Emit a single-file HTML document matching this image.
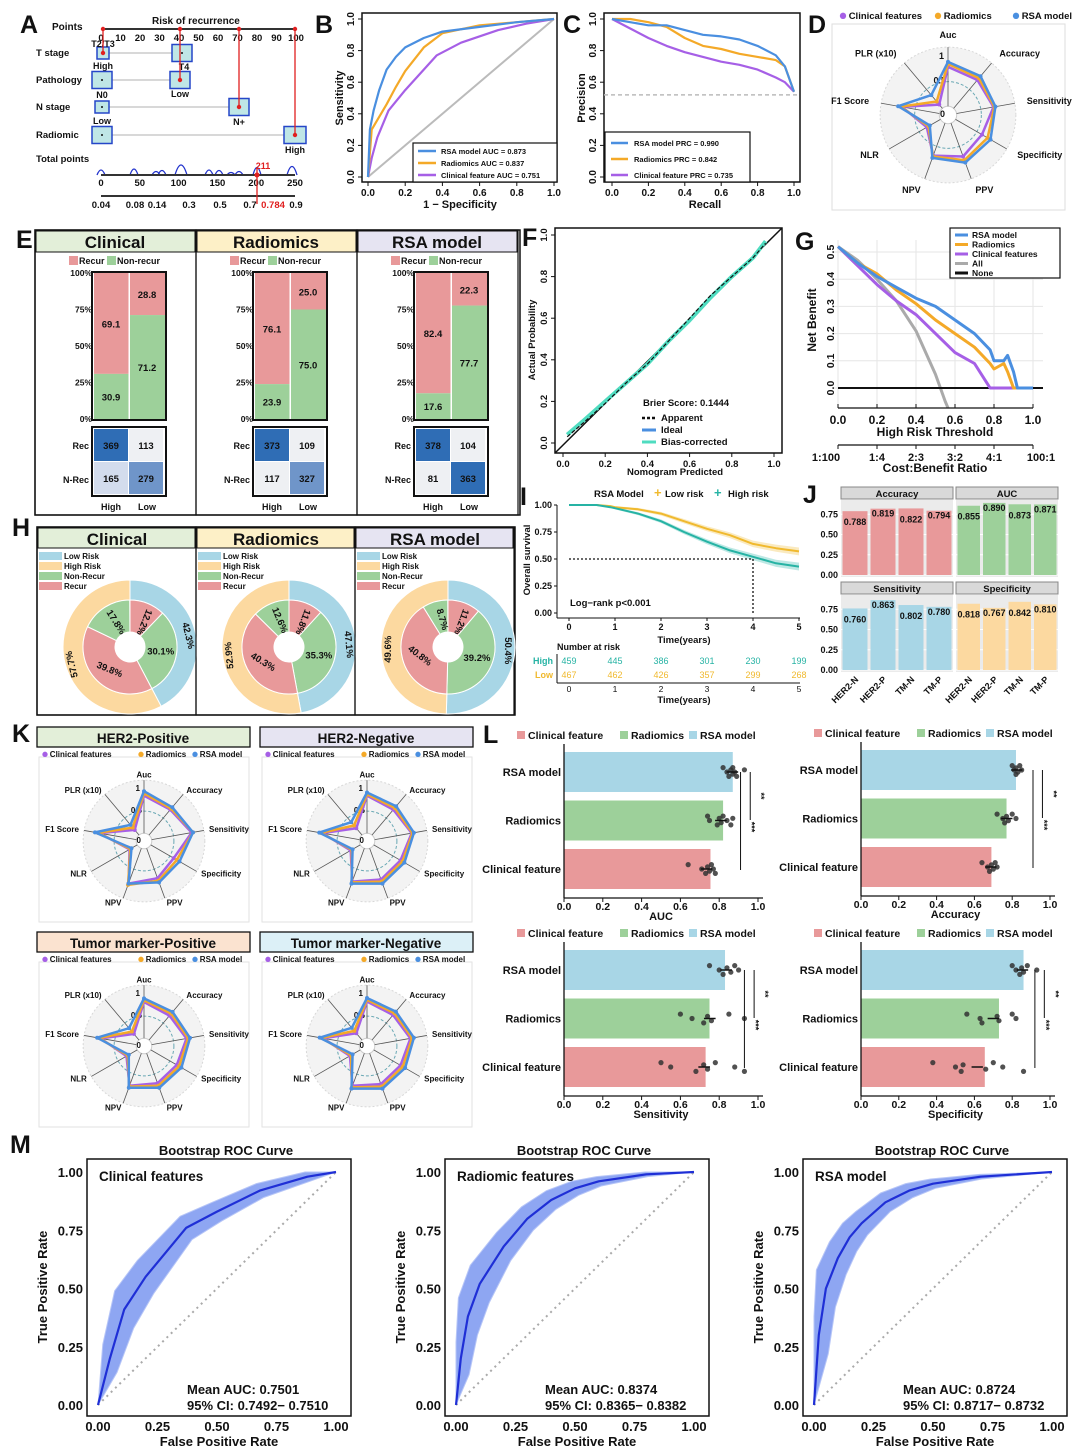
<!DOCTYPE html>
<html><head><meta charset="utf-8">
<style>body{margin:0;background:#fff}svg{display:block;font-family:"Liberation Sans",Arial,sans-serif}</style>
</head><body>
<svg id="fig" width="1080" height="1455" viewBox="0 0 1080 1455"></svg>
<script>
// ===== Panel B: ROC =====
const bRsaX=[0,0.01,0.03,0.06,0.1,0.15,0.2,0.3,0.4,0.6,0.8,1];
const bRsaY=[0,0.3,0.42,0.55,0.68,0.76,0.82,0.88,0.92,0.95,0.98,1];
const bRadX=[0,0.02,0.05,0.1,0.15,0.2,0.3,0.4,0.6,0.8,1];
const bRadY=[0,0.3,0.36,0.46,0.57,0.67,0.82,0.91,0.96,0.98,1];
const bCliX=[0,0.02,0.05,0.11,0.2,0.37,0.5,0.7,0.85,1];
const bCliY=[0,0.12,0.25,0.42,0.55,0.77,0.85,0.93,0.97,1];
const bLegend=['RSA model AUC = 0.873','Radiomics AUC = 0.837','Clinical feature AUC = 0.751'];
// ===== Panel C: PRC =====
const cRecall=[0,0.1,0.2,0.3,0.4,0.5,0.6,0.7,0.8,0.9,0.95,1];
const cRsa=[1,0.98,0.96,0.96,0.93,0.9,0.89,0.87,0.83,0.77,0.7,0.54];
const cRad=[1,1,0.98,0.95,0.88,0.83,0.81,0.78,0.76,0.74,0.7,0.54];
const cCli=[1,0.94,0.88,0.83,0.79,0.76,0.73,0.71,0.68,0.63,0.6,0.54];
const cBaseline=0.52;
const cLegend=['RSA model PRC = 0.990','Radiomics PRC = 0.842','Clinical feature PRC = 0.735'];
// ===== Radar axes =====
const radarLabels=['Auc','Accuracy','Sensitivity','Specificity','PPV','NPV','NLR','F1 Score','PLR (x10)'];
// Panel D
const dCli=[0.8,0.75,0.76,0.62,0.72,0.7,0.32,0.77,0.1];
const dRad=[0.86,0.8,0.78,0.75,0.8,0.72,0.28,0.8,0.18];
const dRsa=[0.9,0.85,0.8,0.82,0.85,0.75,0.25,0.85,0.35];
// ===== Panel E =====
const eGroups=['Clinical','Radiomics','RSA model'];
const eHighRecur=[69.1,76.1,82.4];
const eLowRecur=[28.8,25.0,22.3];
const eMatrix=[[369,113,165,279],[373,109,117,327],[378,104,81,363]];
// ===== Panel F: calibration =====
const fPred=[0.02,0.1,0.2,0.3,0.4,0.5,0.6,0.7,0.8,0.9,0.96];
const fApparent=[0.03,0.1,0.19,0.29,0.38,0.49,0.6,0.71,0.8,0.89,0.96];
const fBias=[0.04,0.11,0.2,0.29,0.38,0.49,0.59,0.7,0.8,0.89,0.97];
// ===== Panel G: DCA =====
const gThr=[0,0.1,0.2,0.3,0.4,0.5,0.6,0.7,0.78,0.8,0.85,0.87,0.9,0.92,1];
const gRsa=[0.52,0.46,0.41,0.37,0.33,0.3,0.25,0.2,0.14,0.1,0.1,0.12,0.06,0,0];
const gRad=[0.52,0.46,0.42,0.36,0.31,0.25,0.2,0.15,0.09,0.07,0.09,0.06,0,0,0];
const gCli=[0.52,0.45,0.38,0.32,0.27,0.2,0.13,0.09,0,0,0,0,0,0,0];
const gAllThr=[0,0.1,0.2,0.3,0.4,0.5,0.55,0.58];
const gAll=[0.52,0.47,0.4,0.32,0.21,0.05,-0.05,-0.1];
const gRatioLabels=['1:100','1:4','2:3','3:2','4:1','100:1'];
const gRatioPos=[0,0.2,0.4,0.6,0.8,1];
// ===== Panel H: donuts =====
const hGroups=['Clinical','Radiomics','RSA model'];
const hLowRisk=[42.3,47.1,50.4];
const hInner=[[12.2,30.1,39.8,17.8],[11.8,35.3,40.3,12.6],[11.2,39.2,40.8,8.7]];
// ===== Panel I: KM =====
const iTime=[0,0.6,0.9,1,1.5,2,2.5,3,3.5,4,4.5,5];
const iLow=[1,1,0.99,0.98,0.96,0.92,0.85,0.78,0.72,0.64,0.6,0.57];
const iHigh=[1,1,0.98,0.97,0.92,0.85,0.75,0.66,0.58,0.52,0.46,0.43];
const iRiskTimes=[0,1,2,3,4,5];
const iRiskHigh=[459,445,386,301,230,199];
const iRiskLow=[467,462,426,357,299,268];
// ===== Panel J =====
const jCats=['HER2-N','HER2-P','TM-N','TM-P'];
const jAcc=[0.788,0.819,0.822,0.794];
const jAuc=[0.855,0.890,0.873,0.871];
const jSens=[0.760,0.863,0.802,0.780];
const jSpec=[0.818,0.767,0.842,0.810];
// ===== Panel K radars =====
const k1Cli=[0.85,0.75,0.92,0.6,0.72,0.85,0.2,0.85,0.15];
const k1Rad=[0.9,0.78,0.95,0.68,0.78,0.88,0.18,0.88,0.22];
const k1Rsa=[0.95,0.82,0.95,0.75,0.82,0.85,0.15,0.95,0.3];
const k2Cli=[0.85,0.75,0.85,0.7,0.75,0.8,0.25,0.85,0.2];
const k2Rad=[0.88,0.8,0.87,0.75,0.8,0.82,0.22,0.88,0.28];
const k2Rsa=[0.92,0.85,0.9,0.8,0.85,0.85,0.2,0.92,0.38];
const k3Cli=[0.82,0.72,0.8,0.68,0.72,0.78,0.28,0.82,0.18];
const k3Rad=[0.86,0.78,0.84,0.74,0.78,0.8,0.25,0.86,0.25];
const k3Rsa=[0.9,0.83,0.88,0.8,0.83,0.83,0.22,0.9,0.35];
const k4Cli=[0.83,0.74,0.82,0.7,0.74,0.78,0.27,0.83,0.2];
const k4Rad=[0.87,0.79,0.86,0.76,0.8,0.82,0.24,0.87,0.27];
const k4Rsa=[0.91,0.84,0.9,0.82,0.85,0.85,0.2,0.91,0.36];
// ===== Panel L =====
const lCats=['RSA model','Radiomics','Clinical feature'];
const lAuc=[0.87,0.82,0.755];
const lAcc=[0.82,0.77,0.69];
const lSens=[0.83,0.75,0.73];
const lSpec=[0.86,0.73,0.655];
const lAucPts=[[0.82,0.84,0.85,0.86,0.87,0.87,0.88,0.89,0.93],[0.74,0.75,0.79,0.8,0.81,0.82,0.84,0.86,0.87],[0.64,0.71,0.73,0.74,0.75,0.76,0.77,0.78]];
const lAccPts=[[0.8,0.81,0.82,0.82,0.83,0.84,0.85],[0.72,0.75,0.76,0.77,0.78,0.8,0.82],[0.64,0.67,0.68,0.69,0.7,0.71,0.72]];
const lSensPts=[[0.75,0.8,0.82,0.84,0.86,0.88,0.9],[0.6,0.66,0.72,0.74,0.76,0.85,0.93],[0.5,0.55,0.68,0.72,0.74,0.78,0.88,0.93]];
const lSpecPts=[[0.8,0.82,0.84,0.85,0.86,0.88,0.93],[0.56,0.63,0.64,0.72,0.73,0.8,0.82],[0.38,0.5,0.53,0.54,0.66,0.7,0.75,0.86]];
// ===== Panel M =====
const mCliX=[0,0.05,0.11,0.2,0.37,0.5,0.68,0.88,1];
const mCliY=[0,0.2,0.41,0.55,0.76,0.83,0.92,0.98,1];
const mCliSpread=[0,0.06,0.08,0.07,0.05,0.04,0.03,0.02,0];
const mRadX=[0,0.02,0.05,0.1,0.15,0.2,0.3,0.4,0.5,0.6,0.8,1];
const mRadY=[0,0.2,0.38,0.52,0.6,0.68,0.8,0.88,0.93,0.96,0.99,1];
const mRadSpread=[0,0.07,0.08,0.08,0.07,0.06,0.05,0.04,0.03,0.02,0.01,0];
const mRsaX=[0,0.02,0.05,0.1,0.15,0.2,0.3,0.4,0.5,0.7,1];
const mRsaY=[0,0.3,0.5,0.63,0.72,0.78,0.87,0.92,0.95,0.98,1];
const mRsaSpread=[0,0.08,0.08,0.07,0.06,0.05,0.04,0.03,0.02,0.01,0];

const NS='http://www.w3.org/2000/svg';const S=document.getElementById('fig');
const C_RSA='#4a8fe0',C_RAD='#f4a928',C_CLI='#a65fe6',PINK='#e8999a',GREEN='#9dd09a',LBLUE='#a8d6e6',LORG='#fcd9a0';
function E(tag,a,name,p){const e=document.createElementNS(NS,tag);for(const k in a)e.setAttribute(k,a[k]);


(p||S).appendChild(e);return e;}
function T(x,y,s,fs,name,o){o=o||{};const a={x:x,y:y,'font-size':fs,fill:o.fill||'#111','font-weight':o.w||'bold','text-anchor':o.a||'start'};if(o.rot!==undefined)a.transform='rotate('+o.rot+' '+x+' '+y+')';if(o.ff)a['font-family']=o.ff;const e=E('text',a,name);e.textContent=s;return e;}
function L(x1,y1,x2,y2,c,w,name,d){return E('line',{x1:x1,y1:y1,x2:x2,y2:y2,stroke:c,'stroke-width':w||1,'stroke-dasharray':d||'none'},name);}
function R(x,y,w,h,f,name,st,sw){return E('rect',{x:x,y:y,width:w,height:h,fill:f,stroke:st||'none','stroke-width':sw||1},name);}
function lin(d0,d1,r0,r1){return v=>r0+(v-d0)/(d1-d0)*(r1-r0);}
function P(xs,ys,sx,sy){return xs.map((v,i)=>(i?'L':'M')+sx(v).toFixed(1)+','+sy(ys[i]).toFixed(1)).join('');}
function line(xs,ys,sx,sy,c,w,name,d){return E('path',{d:P(xs,ys,sx,sy),fill:'none',stroke:c,'stroke-width':w,'stroke-dasharray':d||'none','stroke-linejoin':'round'},name);}
function letter(x,y,s){T(x,y,s,25,'panel-label-'+s.toLowerCase(),{ff:'"Liberation Sans",sans-serif'});}

// ===== Panel A: nomogram =====
letter(20,33,'A');
T(52,30,'Points',10,'points-label');T(152,24,'Risk of recurrence',10,'nomogram-title');
const aPts=lin(0,100,101,296);
L(101,29,296,29,'#333',2,'points-axis');
[0,10,20,30,40,50,60,70,80,90,100].forEach(v=>{T(aPts(v),41,String(v),9.5,'points-tick-label',{a:'middle'});});
const aRows=[['T stage',53],['Pathology',80],['N stage',107],['Radiomic',135]];
aRows.forEach(r=>T(36,r[1]+3,r[0],9.5,'row-label-'+r[0].toLowerCase().replace(' ','-')));
function box(x,y,w,h,n){R(x-w/2,y-h/2,w,h,'#bfe6e6',n,'#2546c8',1.5);E('circle',{cx:x,cy:y,r:1,fill:'#111'},n+'-dot');}
L(103,53,182,53,'#ccc',1.5,'t-stage-line');box(103,53,12,12,'t-stage-high-box');box(182,53,20,17,'t-stage-t4-box');
T(103,47,'T2/T3',9,'t23-label',{a:'middle'});T(103,69,'High',9,'high-label',{a:'middle'});T(184,70,'T4',9,'t4-label',{a:'middle'});
L(103,80,180,80,'#ccc',1.5,'pathology-line');box(102,80,20,17,'pathology-box-1');box(180,80,20,17,'pathology-low-box');T(180,97,'Low',9,'low-label',{a:'middle'});
T(102,98,'N0',9,'n0-label',{a:'middle'});
L(102,107,239,107,'#ccc',1.5,'n-stage-line');box(102,107,14,12,'n0-box');box(239,107,20,17,'nplus-box');T(102,124,'Low',9,'low-label-2',{a:'middle'});T(239,125,'N+',9,'nplus-label',{a:'middle'});
L(102,135,295,135,'#ccc',1.5,'radiomic-line');box(102,135,20,17,'radiomic-low-box');box(295,135,22,17,'radiomic-high-box');T(295,153,'High',9,'high-label-2',{a:'middle'});
T(36,162,'Total points',9.5,'total-points-label');
const aTot=lin(0,250,101,295);
E('path',{d:'M97,175 Q101,165 105,175 M130,175 Q134,163 138,175 M152,175 Q156,168 160,175 M158,175 Q162,166 166,175 M175,175 Q181,155 187,175 M205,175 Q209,165 213,175 M215,175 Q219,166 223,175 M227,175 Q231,170 235,175 M235,175 Q239,168 243,175 M253,175 Q257,160 261,175 M287,175 Q292,158 297,175',fill:'none',stroke:'#2233cc','stroke-width':1.3},'points-distribution');
L(101,175,295,175,'#333',2,'total-points-axis');
[0,50,100,150,200,250].forEach(v=>T(aTot(v),186,String(v),9.5,'total-tick-label',{a:'middle'}));
L(101,196,295,196,'#333',2,'risk-axis');
[['0.04',101],['0.08',135],['0.14',157],['0.3',189],['0.5',220],['0.7',250],['0.9',296]].forEach(r=>T(r[1],208,r[0],9.5,'risk-tick-label',{a:'middle'}));
T(273,208,'0.784',9.5,'risk-value-label',{a:'middle',fill:'#e02020'});
T(263,169,'211',9,'total-value-label',{a:'middle',fill:'#e02020'});
[[103,53],[180,80],[239,107],[295,135]].forEach(p=>{L(p[0],29,p[0],p[1],'#e02020',1.3,'points-drop-line');E('circle',{cx:p[0],cy:29,r:2.2,fill:'#e02020'},'points-dot');E('circle',{cx:p[0],cy:p[1],r:2.2,fill:'#e02020'},'row-dot');});
L(257,168,257,204,'#e02020',1.3,'total-drop-line');E('circle',{cx:257,cy:175,r:2.5,fill:'#e02020'},'total-dot');

// ===== generic axes =====
function frame(x0,y0,x1,y1,name){R(x0,y0,x1-x0,y1-y0,'none',name+'-frame','#111',1.5);}
function xTicks(vals,sx,y,name,fmt,fs){vals.forEach(v=>{L(sx(v),y,sx(v),y+4,'#111',1,name+'-xtick');T(sx(v),y+14,fmt(v),fs||10,name+'-xtick-label',{a:'middle'});});}
function yTicksRot(vals,sy,x,name,fmt,fs){vals.forEach(v=>{L(x-4,sy(v),x,sy(v),'#111',1,name+'-ytick');T(x-8,sy(v),fmt(v),fs||10,name+'-ytick-label',{a:'middle',rot:-90});});}
const f1=v=>v.toFixed(1),f2=v=>v.toFixed(2);

// ===== Panel B =====
letter(315,33,'B');
const bx=lin(0,1,368,554),by=lin(0,1,177,19);
frame(362,13,557,182,'roc');
L(bx(0),by(0),bx(1),by(1),'#bbb',2,'roc-diagonal');
line(bCliX,bCliY,bx,by,C_CLI,2.2,'roc-clinical-curve');
line(bRadX,bRadY,bx,by,C_RAD,2.2,'roc-radiomics-curve');
line(bRsaX,bRsaY,bx,by,C_RSA,2.2,'roc-rsa-curve');
xTicks([0,0.2,0.4,0.6,0.8,1],bx,182,'roc',f1);yTicksRot([0,0.2,0.4,0.6,0.8,1],by,362,'roc',f1);
T(460,208,'1 − Specificity',11,'roc-x-title',{a:'middle'});T(343,98,'Sensitivity',11,'roc-y-title',{a:'middle',rot:-90});
R(413,143,144,39,'#fff','roc-legend','#111',1.2);
[C_RSA,C_RAD,C_CLI].forEach((c,i)=>{L(418,151+i*12,436,151+i*12,c,2.5,'roc-legend-swatch');T(441,154+i*12,bLegend[i],7.5,'roc-legend-text');});

// ===== Panel C =====
letter(563,33,'C');
const cx=lin(0,1,612,794),cy=lin(0,1,177,19);
frame(604,13,800,182,'prc');
L(604,cy(cBaseline),800,cy(cBaseline),'#bbb',1.5,'prc-baseline','4,3');
line(cRecall,cCli,cx,cy,C_CLI,2.2,'prc-clinical-curve');
line(cRecall,cRad,cx,cy,C_RAD,2.2,'prc-radiomics-curve');
line(cRecall,cRsa,cx,cy,C_RSA,2.2,'prc-rsa-curve');
xTicks([0,0.2,0.4,0.6,0.8,1],cx,182,'prc',f1);yTicksRot([0,0.2,0.4,0.6,0.8,1],cy,604,'prc',f1);
T(705,208,'Recall',11,'prc-x-title',{a:'middle'});T(585,98,'Precision',11,'prc-y-title',{a:'middle',rot:-90});
R(605,132,145,50,'#fff','prc-legend','#111',1.2);
[C_RSA,C_RAD,C_CLI].forEach((c,i)=>{L(611,143+i*16,628,143+i*16,c,2.5,'prc-legend-swatch');T(634,146+i*16,cLegend[i],7.5,'prc-legend-text');});

// ===== Radar function =====
function radar(cx0,cy0,r,lr,vals,name,fs){
 E('circle',{cx:cx0,cy:cy0,r:r*1.17,fill:'#f3f3f3',stroke:'#d8d8d8','stroke-dasharray':'2,2'},name+'-background');
 const m=v=>r*(0.15+0.85*v);
 E('circle',{cx:cx0,cy:cy0,r:m(0.5),fill:'none',stroke:'#6aa8b4','stroke-dasharray':'3,2'},name+'-ring-half');
 E('circle',{cx:cx0,cy:cy0,r:m(0),fill:'#fff',stroke:'#ccc'},name+'-ring-zero');
 const n=radarLabels.length;
 const pt=(i,v)=>{const a=i/n*2*Math.PI;return [cx0+m(v)*Math.sin(a),cy0-m(v)*Math.cos(a)];};
 for(let i=0;i<n;i++){const a=i/n*2*Math.PI;const p0=pt(i,0),p1=[cx0+r*1.17*Math.sin(a),cy0-r*1.17*Math.cos(a)];
  L(p0[0],p0[1],p1[0],p1[1],'#555',0.8,name+'-axis-line');
  const s=Math.sin(a),lx=cx0+lr*s,ly=cy0-lr*Math.cos(a)+fs/3;
  T(lx,ly,radarLabels[i],fs,name+'-axis-label',{a:Math.abs(s)<0.2?'middle':(s>0?'start':'end')});}
 T(cx0-4,cy0-m(1)+2,'1',fs,name+'-tick-1',{a:'end'});T(cx0-2,cy0-m(0.5)+2,'0.5',fs,name+'-tick-half',{a:'end'});T(cx0-3,cy0+2,'0',fs,name+'-tick-0',{a:'end'});
 [[vals[0],C_CLI,'clinical'],[vals[1],C_RAD,'radiomics'],[vals[2],C_RSA,'rsa']].forEach(sr=>{
  const pts=sr[0].map((v,i)=>pt(i,v));
  E('polygon',{points:pts.map(p=>p[0].toFixed(1)+','+p[1].toFixed(1)).join(' '),fill:'none',stroke:sr[1],'stroke-width':2.5,'stroke-linejoin':'round'},name+'-'+sr[2]+'-polygon');
  pts.forEach(p=>E('circle',{cx:p[0],cy:p[1],r:2,fill:sr[1]},name+'-'+sr[2]+'-point'));});
}
function radarLegend(x,y,fs,name,gap){[[C_CLI,'Clinical features'],[C_RAD,'Radiomics'],[C_RSA,'RSA model']].forEach((l,i)=>{E('circle',{cx:x+gap[i],cy:y-fs/3,r:fs/3,fill:l[0]},name+'-legend-dot');T(x+gap[i]+fs*0.6,y,l[1],fs,name+'-legend-text');});}

// ===== Panel D =====
letter(808,33,'D');
R(832,24,233,186,'none','radar-d-box','#ddd');
radarLegend(843,19,9.5,'radar-d',[0,95,173]);
radar(948,115,58,80,[dCli,dRad,dRsa],'radar-d',9);

// ===== Panel E =====
letter(16,248,'E');
R(35,230,485,285,'none','panel-e-box','#111',1.5);
const eHead=['#e3efd9','#fdf0c7','#e6e4f2'];
eGroups.forEach((g,k)=>{
 const ox=35+k*161;const nm='stack-'+g.toLowerCase().replace(' ','-');
 R(ox,230,161,285,'none',nm+'-box','#111',1.2);
 R(ox+1,231,159,21,eHead[k],nm+'-header','#111',1);
 T(ox+80,248,g,17,nm+'-title',{a:'middle'});
 R(ox+34,256,9,9,PINK,nm+'-legend-recur');T(ox+44,264,'Recur',9,nm+'-legend-recur-text');
 R(ox+72,256,9,9,GREEN,nm+'-legend-nonrecur');T(ox+82,264,'Non-recur',9,nm+'-legend-nonrecur-text');
 const sy=lin(0,100,419,273);
 [100,75,50,25,0].forEach(v=>T(ox+57,sy(v)+3,v+'%',8.5,nm+'-ytick-label',{a:'end'}));
 const bars=[eHighRecur[k],eLowRecur[k]];
 bars.forEach((pv,j)=>{const x=ox+59+j*36;
  R(x,sy(100),35,sy(100-pv)-sy(100),PINK,nm+'-bar-recur-'+j);
  R(x,sy(100-pv),35,sy(0)-sy(100-pv),GREEN,nm+'-bar-nonrecur-'+j);
  T(x+17,(sy(100)+sy(100-pv))/2+4,pv.toFixed(1),9.5,nm+'-recur-value',{a:'middle'});
  T(x+17,(sy(100-pv)+sy(0))/2+4,(100-pv).toFixed(1),9.5,nm+'-nonrecur-value',{a:'middle'});});
 L(ox+94,sy(100),ox+94,sy(0),'#fff',1,nm+'-bar-gap');
 R(ox+57,272,74,148,'none',nm+'-bar-frame','#111',2);
 const mv=eMatrix[k];const mx=Math.max(...mv);
 R(ox+57,427,74,69,'none',nm+'-matrix-frame','#111',2);
 mv.forEach((v,i)=>{const t=v/mx;const col=t>0.9?'#2f6db5':(t>0.6?'#6f95c9':(t>0.35?'#d3dced':'#eef0f3'));
  const x=ox+59+(i%2)*35,y=429+Math.floor(i/2)*33;R(x,y,34,32,col,nm+'-matrix-cell');T(x+17,y+20,String(v),9.5,nm+'-matrix-value',{a:'middle',fill:'#111'});});
 T(ox+54,449,'Rec',9,nm+'-row-rec',{a:'end'});T(ox+54,483,'N-Rec',9,nm+'-row-nrec',{a:'end'});
 T(ox+76,510,'High',9,nm+'-col-high',{a:'middle'});T(ox+112,510,'Low',9,nm+'-col-low',{a:'middle'});
});

// ===== Panel F =====
letter(522,246,'F');
const fx=lin(0,1,563,774),fy=lin(0,1,443,235);
frame(555,228,782,453,'calibration');
L(555,453,782,228,'#111',1.5,'calibration-diagonal');
line(fPred,fBias,fx,fy,'#4fdcc0',4,'calibration-bias-corrected');
line(fPred,fApparent,fx,fy,'#111',1.2,'calibration-apparent','4,2');
xTicks([0,0.2,0.4,0.6,0.8,1],fx,453,'calibration',f1,9.5);yTicksRot([0,0.2,0.4,0.6,0.8,1],fy,555,'calibration',f1,9.5);
T(535,340,'Actual Probability',9.5,'calibration-y-title',{a:'middle',rot:-90});T(675,475,'Nomogram Predicted',9.5,'calibration-x-title',{a:'middle'});
T(643,406,'Brier Score: 0.1444',9.5,'brier-score');
L(642,418,656,418,'#111',2.5,'legend-apparent','3,2');T(661,421,'Apparent',9.5,'legend-apparent-text');
L(642,430,656,430,C_RSA,3,'legend-ideal');T(661,433,'Ideal',9.5,'legend-ideal-text');
L(642,442,656,442,'#4fdcc0',3,'legend-bias');T(661,445,'Bias-corrected',9.5,'legend-bias-text');

// ===== Panel G =====
letter(795,250,'G');
const gx=lin(0,1,838,1033),gy=lin(0,0.5,388,252);
[0,0.2,0.4,0.6,0.8,1].forEach(v=>L(gx(v),240,gx(v),404,'#e6e6e6',1,'dca-gridline-x'));
[0,0.1,0.2,0.3,0.4,0.5].forEach(v=>L(832,gy(v),1043,gy(v),'#e6e6e6',1,'dca-gridline-y'));
E('clipPath',{id:'gclip'},'dca-clip');document.getElementById('gclip').appendChild(E('rect',{x:832,y:240,width:212,height:168},'dca-clip-rect',document.getElementById('gclip')));
const gAllP=line(gAllThr,gAll,gx,gy,'#aaa',3,'dca-all-line');gAllP.setAttribute('clip-path','url(#gclip)');
L(gx(0),gy(0),1043,gy(0),'#111',2,'dca-none-line');
line(gThr,gCli,gx,gy,C_CLI,3,'dca-clinical-line');
line(gThr,gRad,gx,gy,C_RAD,3,'dca-radiomics-line');
line(gThr,gRsa,gx,gy,C_RSA,3,'dca-rsa-line');
[0,0.1,0.2,0.3,0.4,0.5].forEach(v=>T(834,gy(v),v.toFixed(1),10.5,'dca-ytick-label',{a:'middle',rot:-90}));
T(816,320,'Net Benefit',12,'dca-y-title',{a:'middle',rot:-90});
L(gx(0),408,gx(1),408,'#111',1.2,'dca-x-axis');
[0,0.2,0.4,0.6,0.8,1].forEach(v=>{L(gx(v),408,gx(v),404,'#111',1,'dca-xtick');T(gx(v),424,v.toFixed(1),12,'dca-xtick-label',{a:'middle'});});
T(935,436,'High Risk Threshold',12,'dca-x-title',{a:'middle'});
L(gx(0),445,gx(1),445,'#111',1.2,'cost-benefit-axis');
gRatioPos.forEach((v,i)=>{L(gx(v),445,gx(v),449,'#111',1,'cost-benefit-tick');T(gx(v)+(i==0?-12:0)+(i==5?8:0),461,gRatioLabels[i],11,'cost-benefit-label',{a:'middle'});});
T(935,472,'Cost:Benefit Ratio',12,'cost-benefit-title',{a:'middle'});
R(950,228,110,50,'#fff','dca-legend','#111',1.2);
[[C_RSA,'RSA model'],[C_RAD,'Radiomics'],[C_CLI,'Clinical features'],['#aaa','All'],['#111','None']].forEach((l,i)=>{L(955,235+i*9.5,968,235+i*9.5,l[0],3,'dca-legend-swatch');T(972,238+i*9.5,l[1],8.5,'dca-legend-text');});

// ===== Panel H =====
letter(12,536,'H');
R(37,527,478,188,'none','panel-h-box','#111',1.5);
function arcPath(cx0,cy0,r0,r1,a0,a1){const p=(r,a)=>[cx0+r*Math.sin(a*2*Math.PI),cy0-r*Math.cos(a*2*Math.PI)];const lg=(a1-a0)>0.5?1:0;
 const A=p(r1,a0),B=p(r1,a1),Cc=p(r0,a1),D=p(r0,a0);
 return 'M'+A[0]+','+A[1]+' A'+r1+','+r1+' 0 '+lg+' 1 '+B[0]+','+B[1]+' L'+Cc[0]+','+Cc[1]+' A'+r0+','+r0+' 0 '+lg+' 0 '+D[0]+','+D[1]+'Z';}
const hHead=['#e3efd9','#fdf0c7','#e6e4f2'];
hGroups.forEach((g,k)=>{
 const ox=37+k*159;const nm='donut-'+g.toLowerCase().replace(' ','-');
 R(ox,527,159,188,'none',nm+'-box','#111',1.2);
 R(ox+1,528,157,20,hHead[k],nm+'-header','#111',1);
 T(ox+80,545,g,17,nm+'-title',{a:'middle'});
 [[LBLUE,'Low Risk'],[LORG,'High Risk'],[GREEN,'Non-Recur'],[PINK,'Recur']].forEach((l,i)=>{R(ox+2,552+i*10,23,8,l[0],nm+'-legend-swatch');T(ox+27,559+i*10,l[1],8,nm+'-legend-text');});
 const cx0=ox+93,cy0=647;
 const lo=hLowRisk[k]/100;
 E('path',{d:arcPath(cx0,cy0,47,67,0,lo),fill:LBLUE,stroke:'#fff','stroke-width':1},nm+'-outer-low-risk');
 E('path',{d:arcPath(cx0,cy0,47,67,lo,0.99999),fill:LORG,stroke:'#fff','stroke-width':1},nm+'-outer-high-risk');
 const oa=[[lo/2,hLowRisk[k]],[(lo+1)/2,100-hLowRisk[k]]];
 oa.forEach(o=>{const a=o[0]*2*Math.PI;const x=cx0+57*Math.sin(a),y=cy0-57*Math.cos(a);T(x,y+3,o[1].toFixed(1)+'%',9.5,nm+'-outer-label',{a:'middle',rot:o[0]*360});});
 let acc=0;const cols=[PINK,GREEN,PINK,GREEN];
 hInner[k].forEach((v,i)=>{const a0=acc/100,a1=(acc+v)/100;acc+=v;
  E('path',{d:arcPath(cx0,cy0,15,47,a0,a1),fill:cols[i],stroke:'#fff','stroke-width':1},nm+'-inner-segment');
  const am=(a0+a1)/2*2*Math.PI;const x=cx0+31*Math.sin(am),y=cy0-31*Math.cos(am);
  T(x,y+3,v.toFixed(1)+'%',9.5,nm+'-inner-label',{a:'middle',rot:(a1-a0)<0.2?((a0+a1)/2*360-90+180)%360-180+180:(a0+a1)/2*360>180?((a0+a1)/2*360-180)/2:0});});
 E('circle',{cx:cx0,cy:cy0,r:15,fill:'#fff'},nm+'-hole');
});

// ===== Panel I: KM =====
letter(520,505,'I');
const ix=lin(0,5,569,799),iy=lin(0,1,613,505);
T(594,497,'RSA Model',9.5,'km-legend-title');T(654,497,'+',13,'km-legend-low-mark',{fill:'#f0b92e'});T(665,497,'Low risk',9.5,'km-legend-low');
T(714,497,'+',13,'km-legend-high-mark',{fill:'#26b3a4'});T(728,497,'High risk',9.5,'km-legend-high');
function band(xs,ys,d,sx,sy,c,nm){const up=xs.map((v,i)=>sx(v)+','+sy(Math.min(1,ys[i]+d*i/xs.length)));const dn=xs.map((v,i)=>sx(v)+','+sy(ys[i]-d*i/xs.length)).reverse();E('polygon',{points:up.concat(dn).join(' '),fill:c,opacity:0.3},nm);}
band(iTime,iLow,0.04,ix,iy,'#f0b92e','km-low-band');band(iTime,iHigh,0.04,ix,iy,'#26b3a4','km-high-band');
line(iTime,iLow,ix,iy,'#f0b92e',2,'km-low-curve');line(iTime,iHigh,ix,iy,'#26b3a4',2,'km-high-curve');
L(ix(0),iy(0.5),ix(4),iy(0.5),'#111',1.3,'km-median-hline','2,2');L(ix(4),iy(0.5),ix(4),iy(0),'#111',1.3,'km-median-vline','2,2');
L(557,505,557,618,'#111',1,'km-y-axis');L(557,618,800,618,'#111',1,'km-x-axis');
[0,0.25,0.5,0.75,1].forEach(v=>{L(554,iy(v),557,iy(v),'#111',1,'km-ytick');T(552,iy(v)+3,v.toFixed(2),9,'km-ytick-label',{a:'end'});});
[0,1,2,3,4,5].forEach(v=>{L(ix(v),618,ix(v),621,'#111',1,'km-xtick');T(ix(v),630,String(v),9,'km-xtick-label',{a:'middle'});});
T(530,560,'Overall survival',9.5,'km-y-title',{a:'middle',rot:-90});T(684,643,'Time(years)',9.5,'km-x-title',{a:'middle'});
T(570,606,'Log−rank p<0.001',9.5,'km-logrank');
T(557,650,'Number at risk',9,'risk-table-title');
T(553,664,'High',9,'risk-row-high',{a:'end',fill:'#26b3a4'});T(553,678,'Low',9,'risk-row-low',{a:'end',fill:'#f0b92e'});
L(557,654,557,683,'#111',1,'risk-table-axis');L(557,683,800,683,'#111',1,'risk-table-xaxis');
iRiskTimes.forEach((t,i)=>{T(ix(t),664,String(iRiskHigh[i]),9,'risk-high-value',{a:'middle',fill:'#26b3a4',w:'normal'});T(ix(t),678,String(iRiskLow[i]),9,'risk-low-value',{a:'middle',fill:'#f0b92e',w:'normal'});T(ix(t),692,String(t),8.5,'risk-xtick-label',{a:'middle',w:'normal'});});
T(684,703,'Time(years)',9.5,'risk-x-title',{a:'middle'});

// ===== Panel J =====
letter(803,503,'J');
function jPanel(x0,y0,w,title,vals,col,nm,showX,showY){
 R(x0,y0,w,12,'#d9d9d9',nm+'-header','#888');T(x0+w/2,y0+10,title,9.5,nm+'-title',{a:'middle'});
 const base=y0+88,top=y0+13;R(x0,top,w,base-top+2,'#ebebeb',nm+'-plot-bg');
 const sy=lin(0,1,base,base-81);
 [0,0.25,0.5,0.75].forEach(v=>{L(x0,sy(v),x0+w,sy(v),'#fff',1,nm+'-gridline');if(showY)T(x0-3,sy(v)+3,v.toFixed(2),9,nm+'-ytick-label',{a:'end'});});
 const bw=w/4;
 vals.forEach((v,i)=>{R(x0+i*bw+1.5,sy(v),bw-3,base-sy(v),col,nm+'-bar-'+jCats[i].toLowerCase());T(x0+i*bw+bw/2,sy(v)+(i%2==0?14:8),v.toFixed(3),9,nm+'-bar-value',{a:'middle'});
  if(showX)T(x0+i*bw+bw/2+4,base+10,jCats[i],9,nm+'-xtick-label',{a:'end',rot:-45});});
}
jPanel(841,487,112,'Accuracy',jAcc,PINK,'j-accuracy',false,true);
jPanel(956,487,102,'AUC',jAuc,GREEN,'j-auc',false,false);
jPanel(841,582,112,'Sensitivity',jSens,LBLUE,'j-sensitivity',true,true);
jPanel(956,582,102,'Specificity',jSpec,LORG,'j-specificity',true,false);

// ===== Panel K =====
letter(12,742,'K');
const kPanels=[[37,727,'HER2-Positive','#e3efd9',[k1Cli,k1Rad,k1Rsa]],[260,727,'HER2-Negative','#e6e4f2',[k2Cli,k2Rad,k2Rsa]],[37,932,'Tumor marker-Positive','#fbe3d0',[k3Cli,k3Rad,k3Rsa]],[260,932,'Tumor marker-Negative','#dcf0f7',[k4Cli,k4Rad,k4Rsa]]];
kPanels.forEach(p=>{const nm='radar-'+p[2].toLowerCase().replace(/ /g,'-');
 R(p[0]+2,p[1]+30,210,165,'none',nm+'-box','#e2e2e2');
 R(p[0],p[1],213,20,p[3],nm+'-header','#111',1.3);T(p[0]+106,p[1]+16,p[2],13.5,nm+'-title',{a:'middle'});
 radarLegend(p[0]+8,p[1]+30,8,nm,[0,96,150]);
 radar(p[0]+107,p[1]+114,52,66,p[4],nm,8);});

// ===== Panel L =====
letter(483,743,'L');
const lCols=[LBLUE,GREEN,PINK];
function lChart(x0,x1,yTop,vals,pts,title,nm,sig){
 [[PINK,'Clinical feature'],[GREEN,'Radiomics'],[LBLUE,'RSA model']].forEach((l,i)=>{const lx=x0-47+[0,103,172][i];R(lx,yTop-21,8,8,l[0],nm+'-legend-swatch');T(lx+11,yTop-13,l[1],10.5,nm+'-legend-text');});
 const sx=lin(0,1,x0,x1);
 vals.forEach((v,i)=>{const y=yTop+i*48.5;R(sx(0),y,sx(v)-sx(0),40,lCols[i],nm+'-bar-'+lCats[i].toLowerCase().replace(' ','-'));
  T(x0-3,y+24,lCats[i],11,nm+'-category-label',{a:'end'});
  pts[i].forEach((pv,j)=>E('circle',{cx:sx(pv),cy:y+20+((j*7)%5-2)*2.2,r:2.6,fill:'#333',opacity:0.85},nm+'-point'));
  const mn=pts[i].reduce((a,b)=>a+b,0)/pts[i].length;L(sx(mn-0.03),y+20,sx(mn+0.03),y+20,'#111',1.5,nm+'-errorbar');});
 L(x0,yTop-8,x0,yTop+146,'#111',1.3,nm+'-y-axis');L(x0,yTop+146,x1+5,yTop+146,'#111',1.3,nm+'-x-axis');
 [0,0.2,0.4,0.6,0.8,1].forEach(v=>{L(sx(v),yTop+146,sx(v),yTop+150,'#111',1,nm+'-xtick');T(sx(v),yTop+158,v.toFixed(1),10.5,nm+'-xtick-label',{a:'middle'});});
 T((x0+x1)/2,yTop+168,title,11,nm+'-x-title',{a:'middle'});
 const bx1=sx(sig[0]),bx2=sx(sig[1]);
 L(bx1,yTop+20,bx1,yTop+118,'#111',1,nm+'-sig-bracket-1');L(bx2,yTop+20,bx2,yTop+68,'#111',1,nm+'-sig-bracket-2');
 T(bx1+8,yTop+75,'***',9,nm+'-sig-stars-1',{a:'middle',rot:90});T(bx2+8,yTop+44,'**',9,nm+'-sig-stars-2',{a:'middle',rot:90});
}
lChart(564,758,752,lAuc,lAucPts,'AUC','l-auc',[0.91,0.96]);
lChart(861,1050,750,lAcc,lAccPts,'Accuracy','l-accuracy',[0.91,0.96]);
lChart(564,758,950,lSens,lSensPts,'Sensitivity','l-sensitivity',[0.93,0.98]);
lChart(861,1050,950,lSpec,lSpecPts,'Specificity','l-specificity',[0.92,0.97]);

// ===== Panel M =====
letter(10,1153,'M');
function mChart(fx0,xs,ys,sp,label,auc,ci,nm){
 const x0=fx0,sx=lin(0,1,x0+11,x0+249),sy=lin(0,1,1405,1172);
 T(x0+139,1155,'Bootstrap ROC Curve',13,nm+'-title',{a:'middle'});
 frame(x0,1159,x0+264,1416,nm);
 L(sx(0),sy(0),sx(1),sy(1),'#aaa',2,nm+'-diagonal','2,4');
 const up=xs.map((v,i)=>sx(Math.max(0,v-sp[i]*0.5))+','+sy(Math.min(1,ys[i]+sp[i])));
 const dn=xs.map((v,i)=>sx(Math.min(1,v+sp[i]*0.5))+','+sy(Math.max(0,ys[i]-sp[i]))).reverse();
 E('polygon',{points:up.concat(dn).join(' '),fill:'#8ea6f2',stroke:'#b7c6f7','stroke-width':1},nm+'-bootstrap-band');
 line(xs,ys,sx,sy,'#1f2fd6',2.2,nm+'-mean-curve');
 [0,0.25,0.5,0.75,1].forEach(v=>{T(sx(v),1431,v.toFixed(2),13,nm+'-xtick-label',{a:'middle'});T(x0-4,sy(v)+5,v.toFixed(2),13,nm+'-ytick-label',{a:'end'});});
 T(x0+132,1446,'False Positive Rate',13,nm+'-x-title',{a:'middle'});
 T(x0-40,1287,'True Positive Rate',13,nm+'-y-title',{a:'middle',rot:-90});
 T(x0+12,1181,label,13.5,nm+'-label');
 T(x0+100,1394,'Mean AUC: '+auc,13,nm+'-mean-auc');T(x0+100,1410,'95% CI: '+ci,13,nm+'-ci');
}
mChart(87,mCliX,mCliY,mCliSpread,'Clinical features','0.7501','0.7492− 0.7510','m-clinical');
mChart(445,mRadX,mRadY,mRadSpread,'Radiomic features','0.8374','0.8365− 0.8382','m-radiomic');
mChart(803,mRsaX,mRsaY,mRsaSpread,'RSA model','0.8724','0.8717− 0.8732','m-rsa');
</script>
</body></html>
